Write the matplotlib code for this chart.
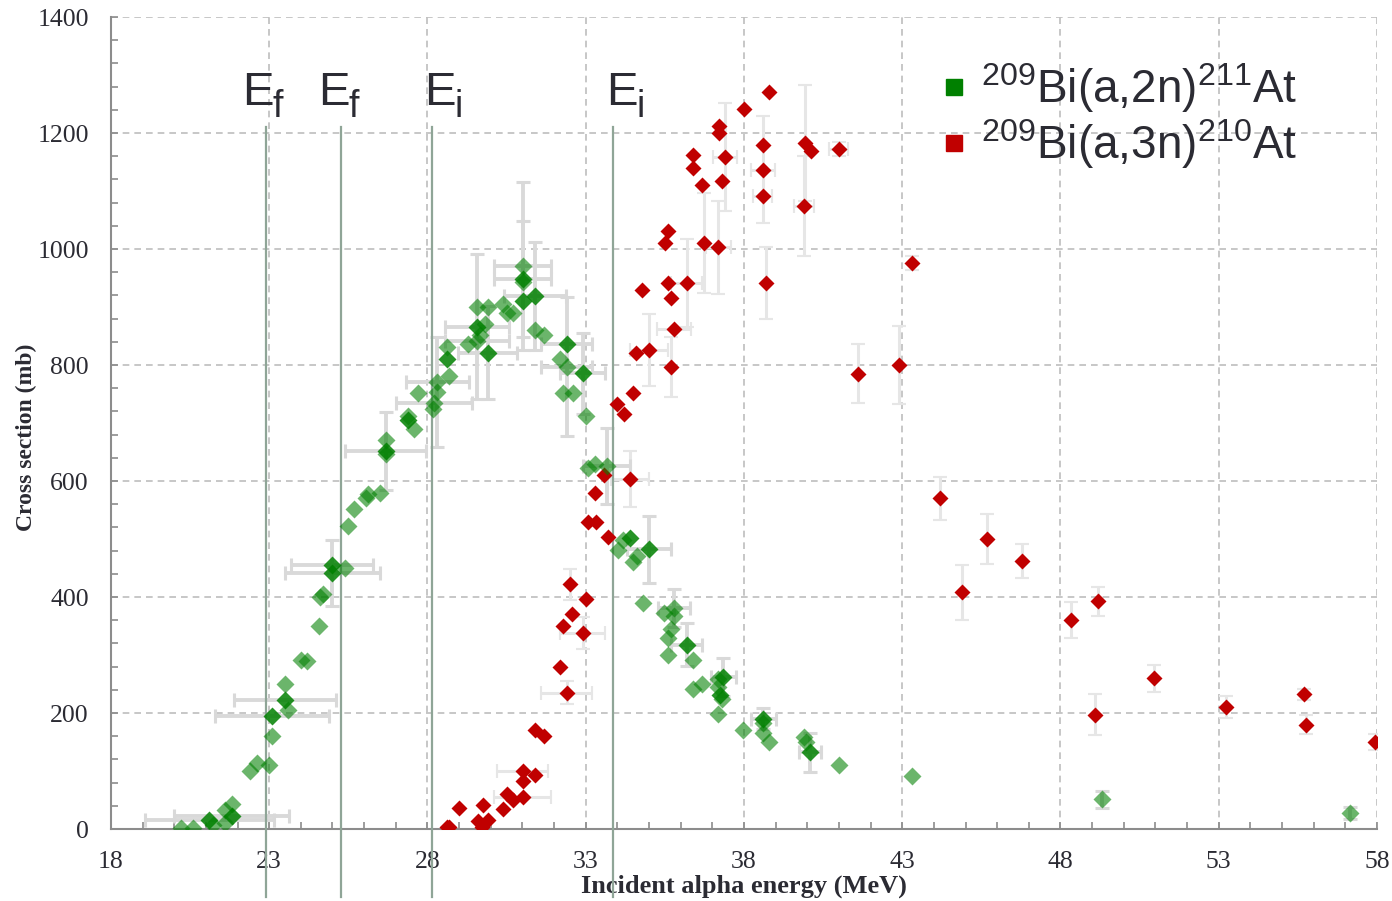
import numpy as np
import matplotlib
matplotlib.use('Agg')
import matplotlib.pyplot as plt
from matplotlib.lines import Line2D
from matplotlib.ticker import MultipleLocator

# 209Bi(a,2n)211At  -- light markers
g_e = [20.20, 20.60, 21.22, 21.60, 21.60, 21.81, 22.39, 22.60, 23.00, 23.08,
       23.60, 23.50, 24.00, 24.20, 24.58, 24.60, 24.71, 25.41, 25.50, 25.69,
       26.05, 26.12, 26.50, 26.69, 26.69, 27.39, 27.58, 27.69, 28.18, 28.20,
       28.29, 28.31, 28.61, 28.69, 29.29, 29.57, 29.90, 29.82, 29.66, 29.57,
       30.40, 30.52, 30.71, 31.01, 31.01, 31.40, 31.69, 32.18, 32.40, 32.29,
       32.60, 33.00, 33.08, 33.29, 33.66, 34.01, 34.19, 34.61, 34.48, 34.80,
       35.48, 35.80, 35.80, 35.69, 35.59, 35.59, 36.38, 36.40, 36.69, 37.19,
       37.19, 37.30, 37.19, 37.98, 38.61, 38.59, 38.80, 39.90, 39.97, 41.01,
       43.30, 49.30, 57.14]
g_s = [2, 1, 7, 10, 32, 43, 100, 114, 110, 160,
       205, 250, 291, 290, 350, 400, 406, 450, 522, 551,
       570, 577, 580, 671, 647, 712, 690, 751, 725, 734,
       754, 771, 831, 781, 837, 900, 900, 871, 852, 842,
       906, 890, 889, 971, 943, 860, 851, 811, 797, 751,
       751, 712, 622, 629, 626, 481, 499, 471, 461, 390,
       372, 381, 367, 345, 330, 300, 291, 241, 250, 259,
       245, 225, 199, 171, 183, 165, 150, 159, 150, 110,
       92, 51, 28]

# darker (overlapping) markers
gd_e = [21.11, 21.81, 23.10, 23.50, 24.99, 24.99, 26.69, 27.39, 28.61, 29.57,
        29.90, 31.01, 31.01, 31.40, 32.40, 32.90, 34.40, 35.00, 36.19, 37.35,
        37.25, 38.61, 40.08]
gd_s = [15, 22, 195, 222, 455, 442, 652, 705, 810, 866,
        821, 949, 910, 919, 836, 786, 502, 482, 318, 262,
        231, 190, 132]

# green error bars: energy, cross section, x error, y error
ge_e = [21.11, 21.81, 23.10, 23.50, 24.99, 24.99, 26.69, 28.31, 28.20, 28.29,
        29.57, 29.57, 29.90, 31.01, 31.01, 31.40, 32.40, 32.40, 32.90, 33.66,
        35.00, 35.80, 36.19, 37.35, 38.61, 40.08, 49.30, 57.14]
ge_s = [15, 22, 195, 222, 455, 442, 652, 771, 734, 754,
        866, 842, 821, 971, 949, 919, 836, 797, 786, 626,
        482, 381, 318, 262, 190, 132, 51, 28]
ge_dx = [2.03, 1.82, 1.8, 1.6, 1.3, 1.5, 1.28, 1.0, 1.2, 0,
         1.0, 1.0, 0.93, 0.9, 0.9, 0.97, 0.8, 0.8, 0.7, 0.75,
         0.7, 0.5, 0.5, 0.4, 0.4, 0.35, 0, 0]
ge_dy = [0, 0, 0, 0, 0, 57, 67, 0, 0, 95,
         125, 0, 80, 145, 100, 93, 0, 120, 70, 66,
         57, 33, 37, 32, 18, 33, 15, 10]

# 209Bi(a,3n)210At
r_e = [28.61, 28.69, 29.00, 29.61, 29.71, 29.76, 29.92, 30.39, 30.52, 30.71,
       31.01, 31.01, 31.01, 31.40, 31.40, 31.69, 32.19, 32.40, 32.29, 32.58,
       32.50, 32.90, 33.00, 33.08, 33.31, 33.29, 33.59, 33.69, 34.40, 34.00,
       34.21, 34.50, 34.59, 35.01, 35.69, 35.79, 35.69, 35.59, 34.79, 35.50,
       35.61, 36.19, 36.75, 37.19, 36.69, 36.40, 36.40, 37.31, 37.40, 37.21,
       37.21, 38.00, 38.80, 38.59, 38.59, 38.59, 38.69, 39.90, 39.93, 40.11,
       41.00, 41.59, 42.89, 43.30, 44.19, 44.89, 45.69, 46.79, 48.33, 49.19,
       49.10, 50.95, 53.24, 55.69, 55.75, 57.95]
r_s = [4, 3, 36, 13, 4, 41, 16, 35, 60, 50,
       56, 82, 100, 93, 171, 160, 280, 235, 350, 371,
       422, 338, 396, 530, 530, 580, 610, 504, 603, 733,
       716, 751, 821, 826, 797, 862, 915, 942, 930, 1011,
       1031, 942, 1011, 1003, 1111, 1140, 1162, 1117, 1158, 1200,
       1212, 1241, 1271, 1180, 1137, 1091, 941, 1074, 1182, 1169,
       1173, 785, 800, 976, 570, 408, 500, 462, 360, 393,
       197, 260, 211, 232, 180, 150]

re_e = [31.01, 31.01, 32.40, 32.50, 32.90, 34.40, 35.01, 35.69, 35.79, 36.19,
        36.75, 37.19, 37.40, 38.59, 38.59, 38.69, 39.90, 39.93, 41.00, 41.59,
        42.89, 43.30, 44.19, 44.89, 45.69, 46.79, 48.33, 49.19, 49.10, 50.95,
        53.24, 55.69, 55.75, 57.95]
re_s = [100, 56, 235, 422, 338, 603, 826, 797, 862, 942,
        1011, 1003, 1158, 1137, 1091, 941, 1074, 1182, 1173, 785,
        800, 976, 570, 408, 500, 462, 360, 393, 197, 260,
        211, 232, 180, 150]
re_dx = [0.8, 0.9, 0.8, 0, 0.7, 0.6, 0.6, 0, 0.53, 0.5,
         0, 0.4, 0.38, 0.38, 0.3, 0, 0.32, 0, 0.3, 0,
         0, 0, 0, 0, 0, 0, 0, 0, 0, 0,
         0, 0, 0, 0]
re_dy = [0, 0, 20, 27, 28, 48, 62, 52, 0, 76,
         86, 80, 93, 92, 0, 62, 86, 100, 12, 51,
         68, 12, 37, 48, 43, 30, 31, 25, 35, 23,
         19, 9, 17, 14]

# threshold lines and their labels
line_e = [22.90, 25.27, 28.14, 33.86]
lab_main = ['E', 'E', 'E', 'E']
lab_sub = ['f', 'f', 'i', 'i']
lab_e = [22.14, 24.54, 27.89, 33.64]
sub_e = [23.09, 25.49, 28.85, 34.60]

txt = '#2b2b33'
fig = plt.figure(figsize=(13.92, 9.01), dpi=100)
ax = fig.add_axes([0.0797, 0.0799, 0.9095, 0.9012])

plt.rcParams['mathtext.fontset'] = 'custom'
plt.rcParams['mathtext.rm'] = 'Liberation Sans'
plt.rcParams['mathtext.it'] = 'Liberation Sans:italic'


def bars(e, s, dx, dy, col, lw, cap, ct):
    e, s, dx, dy = map(np.array, (e, s, dx, dy))
    m = dx > 0
    ax.errorbar(e[m], s[m], xerr=dx[m], fmt='none', ecolor=col, elinewidth=lw,
                capsize=cap, capthick=ct, zorder=2)
    m = dy > 0
    ax.errorbar(e[m], s[m], yerr=dy[m], fmt='none', ecolor=col, elinewidth=lw,
                capsize=cap, capthick=ct, zorder=2)


bars(re_e, re_s, re_dx, re_dy, '#e6e6e6', 2.2, 5, 1.5)
bars(ge_e, ge_s, ge_dx, ge_dy, '#d9d9d9', 2.8, 5, 2.2)

for x in line_e:
    ax.plot([x, x], [1210, -117], color='#8fa597', lw=1.6, zorder=3, clip_on=False)
for x, xs, t, s in zip(lab_e, sub_e, lab_main, lab_sub):
    ax.text(x, 1248, t, fontsize=34, color=txt, family='Liberation Sans',
            ha='left', va='baseline')
    ax.text(xs, 1228, s, fontsize=27, color=txt, family='Liberation Sans',
            ha='left', va='baseline')

ax.plot(r_e, r_s, 'D', ms=8.5, color='#c00000', mec='none', ls='none', zorder=4)
ax.plot(g_e, g_s, 'D', ms=9, color='#008000', alpha=0.58, mec='none', ls='none', zorder=5)
ax.plot(gd_e, gd_s, 'D', ms=9, color='#008000', alpha=0.85, mec='none', ls='none', zorder=5)

ax.set_xlim(18, 58)
ax.set_ylim(0, 1400)
ax.set_xticks(range(18, 59, 5))
ax.xaxis.set_minor_locator(MultipleLocator(1))
ax.yaxis.set_major_locator(MultipleLocator(200))
ax.yaxis.set_minor_locator(MultipleLocator(40))
ax.grid(which='major', ls=(0, (4, 3)), color='#bdbdbd', lw=1.2, zorder=0)
ax.set_axisbelow(True)
for sp in ['top', 'right']:
    ax.spines[sp].set_visible(False)
for sp in ['left', 'bottom']:
    ax.spines[sp].set_color('#8c8c8c')
    ax.spines[sp].set_linewidth(1.5)
ax.tick_params(which='both', direction='in', length=5, width=1.2, color='#8c8c8c',
               labelsize=18.5, labelcolor=txt)
ax.tick_params(axis='y', pad=16)
ax.tick_params(axis='x', pad=16)
for lb in ax.get_xticklabels() + ax.get_yticklabels():
    lb.set_family('Liberation Serif')

ax.set_xlabel('Incident alpha energy (MeV)', family='Liberation Serif', fontsize=19,
              fontweight='bold', color=txt, va='center')
ax.set_ylabel('Cross section (mb)', family='Liberation Serif', fontsize=17,
              fontweight='bold', color=txt, va='center')
ax.xaxis.set_label_coords(0.5, -0.070)
ax.yaxis.set_label_coords(-0.067, 0.483)

hs = [Line2D([], [], marker='s', ls='none', color='#008000', ms=11.5),
      Line2D([], [], marker='s', ls='none', color='#c00000', ms=11.5)]
ax.legend(hs, [r'$^{209}$Bi(a,2n)$^{211}$At', r'$^{209}$Bi(a,3n)$^{210}$At'],
          loc='upper left', bbox_to_anchor=(0.6367, 0.968), frameon=False,
          prop={'family': 'Liberation Sans', 'size': 33}, handletextpad=0.19,
          labelspacing=0.05, handlelength=0.8, borderaxespad=0, labelcolor=txt)

fig.savefig('out.png', dpi=100)
